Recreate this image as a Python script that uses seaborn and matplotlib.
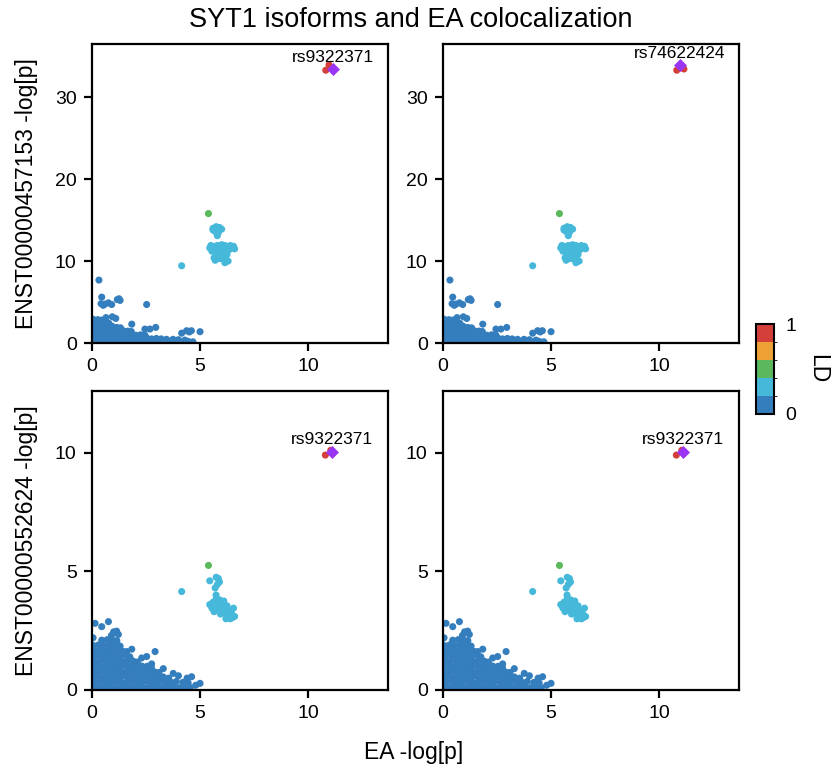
import matplotlib
matplotlib.use("Agg")
import matplotlib.pyplot as plt
import seaborn as sns
import pandas as pd
from matplotlib.colors import ListedColormap, BoundaryNorm
from matplotlib.cm import ScalarMappable

sns.set_style("ticks")
plt.rcParams['font.family'] = ['Liberation Sans', 'DejaVu Sans']
plt.rcParams['text.color'] = 'black'
plt.rcParams['axes.labelcolor'] = 'black'
plt.rcParams['xtick.color'] = 'black'
plt.rcParams['ytick.color'] = 'black'

# ---------------- data ----------------
ld_bins = ["0-0.2", "0.2-0.4", "0.4-0.6", "0.6-0.8", "0.8-1"]
ld_colors = ["#357ebd", "#46b8da", "#5cb85c", "#eea236", "#d43f3a"]
lead_color = "#9b35f5"

# Row 1: ENST00000457153, low-LD background SNPs
top_blob_x = [0.05,0.27,0.49,0.71,0.93,1.15,1.37,1.59,1.81,2.03,2.25,2.47,2.69,2.91,3.13,3.35,3.57,3.79,4.01,4.23,4.45,4.67,
              0.12,0.34,0.56,0.78,1.0,1.22,1.44,1.66,1.88,2.1,2.32,2.54,2.76,2.98,3.2,3.45,3.75,4.0,4.3,
              0.05,0.27,0.49,0.71,0.93,1.15,1.37,1.59,1.81,2.03,2.25,2.45,
              0.12,0.34,0.56,0.78,1.0,1.22,1.44,1.66,1.82,
              0.05,0.27,0.49,0.71,0.93,1.15,1.32,
              0.12,0.34,0.56,0.78,
              0.05,0.27,0.45,
              0.32,0.45,0.42,0.76,0.91,1.17,1.3,0.52,0.6,1.25,2.53,0.94,1.84,2.45,2.68,2.95,4.15,4.38,4.6,4.5,5.0,1.1,0.65]
top_blob_y = [0.2,0.15,0.25,0.2,0.15,0.2,0.25,0.15,0.2,0.2,0.15,0.2,0.25,0.15,0.2,0.15,0.2,0.15,0.2,0.15,0.2,0.15,
              0.55,0.6,0.5,0.55,0.6,0.55,0.5,0.6,0.55,0.5,0.55,0.6,0.5,0.55,0.5,0.45,0.45,0.4,0.35,
              1.0,1.05,0.95,1.0,1.05,1.0,0.95,1.0,1.05,0.95,1.0,0.95,
              1.5,1.45,1.55,1.5,1.45,1.55,1.5,1.45,1.4,
              2.0,2.05,1.95,2.0,2.05,1.9,1.85,
              2.5,2.45,2.5,2.4,
              2.9,2.85,2.8,
              7.68,5.6,4.8,4.9,4.7,5.3,5.2,4.6,4.75,5.4,4.7,3.2,2.3,1.7,1.7,1.9,1.2,1.5,1.5,1.35,1.38,3.0,3.1]

top_mid_x = [5.6,5.75,5.9,6.0,5.7,5.85,5.8,5.6,
             5.45,5.55,5.6,5.7,5.75,5.8,5.85,5.9,5.95,6.0,6.05,6.1,6.15,6.2,6.25,6.3,6.35,6.4,6.45,6.55,6.6,
             5.65,5.7,5.95,6.15,6.2,5.5,6.0,5.8,6.3,
             4.15]
top_mid_y = [14.0,14.2,14.1,13.9,13.6,13.5,13.1,13.8,
             11.6,11.2,11.8,11.5,11.0,11.9,10.6,11.3,11.8,11.1,10.5,11.6,11.9,11.3,10.8,11.7,11.4,11.9,11.6,11.8,11.5,
             10.4,10.1,10.3,9.8,10.1,11.9,12.0,10.3,10.0,
             9.43]

top_green_x = [5.39]
top_green_y = [15.8]

top_high_x = [10.82, 11.15, 10.97]
top_high_y = [33.3, 33.45, 33.95]
top_high_names = ["", "rs9322371", "rs74622424"]

# Row 2: ENST00000552624
bot_blob_x = [0.05,0.3,0.55,0.8,1.05,1.3,1.55,1.8,2.05,2.3,2.55,2.8,3.05,3.3,3.55,3.8,4.05,4.3,4.55,
              0.15,0.4,0.65,0.9,1.15,1.4,1.65,1.9,2.15,2.4,2.65,2.9,3.15,3.4,3.65,3.9,4.2,4.45,
              0.05,0.3,0.55,0.8,1.05,1.3,1.55,1.8,2.05,2.3,2.55,2.8,3.05,3.3,3.55,
              0.15,0.4,0.65,0.9,1.15,1.4,1.65,1.9,2.15,2.4,2.65,2.9,3.1,
              0.05,0.3,0.55,0.8,1.05,1.3,1.55,1.8,2.05,2.3,2.55,2.75,
              0.15,0.4,0.65,0.9,1.15,1.4,1.65,1.9,2.1,
              0.05,0.3,0.55,0.8,1.05,1.3,1.55,1.75,
              0.15,0.4,0.65,0.9,1.15,1.4,1.6,
              0.05,0.3,0.55,0.8,1.05,1.3,
              0.45,0.7,0.95,1.15,
              0.14,0.45,0.76,1.0,1.14,1.22,0.9,1.84,2.53,2.92,2.3,3.3,3.76,4.0,4.61,4.4,5.0,4.8,0.05,2.76]
bot_blob_y = [0.12,0.1,0.14,0.12,0.1,0.13,0.12,0.1,0.12,0.14,0.1,0.12,0.13,0.1,0.12,0.14,0.1,0.12,0.1,
              0.34,0.36,0.33,0.34,0.36,0.32,0.34,0.35,0.33,0.36,0.34,0.32,0.35,0.34,0.33,0.36,0.32,0.3,
              0.56,0.58,0.55,0.57,0.56,0.54,0.58,0.56,0.55,0.57,0.56,0.54,0.56,0.55,0.5,
              0.78,0.8,0.77,0.79,0.78,0.76,0.8,0.78,0.77,0.79,0.78,0.76,0.74,
              1.0,1.02,0.99,1.01,1.0,0.98,1.02,1.0,0.99,1.01,1.0,0.95,
              1.22,1.24,1.21,1.23,1.22,1.2,1.24,1.22,1.18,
              1.44,1.46,1.43,1.45,1.44,1.42,1.46,1.4,
              1.66,1.68,1.65,1.67,1.66,1.64,1.62,
              1.88,1.9,1.87,1.89,1.88,1.85,
              2.1,2.12,2.1,2.08,
              2.81,2.67,2.88,2.45,2.48,2.34,2.3,1.72,1.41,1.62,1.35,0.9,0.7,0.6,0.56,0.5,0.28,0.2,2.2,1.1]

bot_mid_x = [5.45,5.75,5.85,5.8,5.9,5.7,5.74,
             5.45,5.55,5.6,5.7,5.75,5.8,5.85,5.9,5.95,6.0,6.05,6.1,6.15,6.2,6.25,6.3,6.35,6.4,6.45,6.55,6.6,5.65,5.95,6.2,6.5,
             4.15]
bot_mid_y = [4.6,4.75,4.7,4.45,4.55,4.3,4.0,
             3.6,3.45,3.7,3.55,3.85,3.4,3.65,3.8,3.5,3.3,3.6,3.75,3.4,3.2,3.55,3.35,3.1,3.0,3.25,3.45,3.1,3.3,3.2,3.0,3.05,
             4.15]

bot_green_x = [5.39]
bot_green_y = [5.25]

bot_high_x = [10.8, 11.05, 11.1]
bot_high_y = [9.9, 10.1, 10.05]
bot_high_names = ["", "", "rs9322371"]

row_labels = ["ENST00000457153 -log[p]", "ENST00000552624 -log[p]"]
row_ylim = [36.5, 12.6]
row_yticks = [[0, 10, 20, 30], [0, 5, 10]]
xticks = [0, 5, 10]
# lead SNP index per panel (row, col)
panel_lead = {(0, 0): 1, (0, 1): 2, (1, 0): 2, (1, 1): 2}

rows = [
    (top_blob_x, top_blob_y, top_mid_x, top_mid_y, top_green_x, top_green_y, top_high_x, top_high_y, top_high_names),
    (bot_blob_x, bot_blob_y, bot_mid_x, bot_mid_y, bot_green_x, bot_green_y, bot_high_x, bot_high_y, bot_high_names),
]

# ---------------- figure ----------------
fig = plt.figure(figsize=(8.39, 7.72), dpi=100)
W, H = 839, 772
ax_w, ax_h = 296, 299
lefts = [92, 443]
tops = [44, 391]

palette = dict(zip(ld_bins, ld_colors))

for r, row in enumerate(rows):
    bx, by, mx, my, gx, gy, hx, hy, hn = row
    for c in range(2):
        ax = fig.add_axes([lefts[c] / W, 1 - (tops[r] + ax_h) / H, ax_w / W, ax_h / H])
        lead = panel_lead[(r, c)]
        xs = list(bx) + list(mx) + list(gx) + [hx[i] for i in range(len(hx)) if i != lead]
        ys = list(by) + list(my) + list(gy) + [hy[i] for i in range(len(hy)) if i != lead]
        ld = ([ld_bins[0]] * len(bx) + [ld_bins[1]] * len(mx) + [ld_bins[2]] * len(gx)
              + [ld_bins[4]] * (len(hx) - 1))
        df = pd.DataFrame({"x": xs, "y": ys, "LD": ld})
        sns.scatterplot(data=df, x="x", y="y", hue="LD", palette=palette, hue_order=ld_bins,
                        s=26, linewidth=0, legend=False, ax=ax)
        lead_df = pd.DataFrame({"x": [hx[lead]], "y": [hy[lead]]})
        sns.scatterplot(data=lead_df, x="x", y="y", marker="D", color=lead_color,
                        s=44, linewidth=0, legend=False, ax=ax, zorder=5)
        ax.annotate(hn[lead], (hx[lead], hy[lead]), xytext=(0, 3), textcoords="offset points",
                    ha="center", va="bottom", fontsize=12.5, color="black")
        ax.set_xlim(0, 13.7)
        ax.set_ylim(0, row_ylim[r])
        ax.set_xticks(xticks)
        ax.set_yticks(row_yticks[r])
        ax.set_xlabel("")
        if c == 0:
            ax.set_ylabel(row_labels[r], fontsize=16.5, labelpad=12)
        else:
            ax.set_ylabel("")
        for sp in ax.spines.values():
            sp.set_linewidth(1.6)
            sp.set_color("black")
            sp.set_visible(True)
        ax.tick_params(axis="both", direction="out", length=6, width=1.6, color="black",
                       labelsize=14, labelcolor="black", pad=5)

# colorbar
cax = fig.add_axes([756 / W, 1 - 414 / H, 18 / W, 90 / H])
cmap = ListedColormap(ld_colors)
norm = BoundaryNorm([0, 0.2, 0.4, 0.6, 0.8, 1.0], cmap.N)
cb = fig.colorbar(ScalarMappable(norm=norm, cmap=cmap), cax=cax, ticks=[0, 1])
cb.ax.tick_params(length=0, labelsize=14, pad=8, labelcolor="black")
cb.outline.set_linewidth(1.5)
cb.outline.set_edgecolor("black")
cb.set_label("LD", rotation=270, fontsize=16.5, labelpad=24, color="black")

fig.text(411 / W, 1 - 20 / H, "SYT1 isoforms and EA colocalization", ha="center", va="center",
         fontsize=19.5, color="black")
fig.text(414 / W, 1 - 752 / H, "EA -log[p]", ha="center", va="center", fontsize=16.5, color="black")

fig.savefig("out.png", dpi=100)
